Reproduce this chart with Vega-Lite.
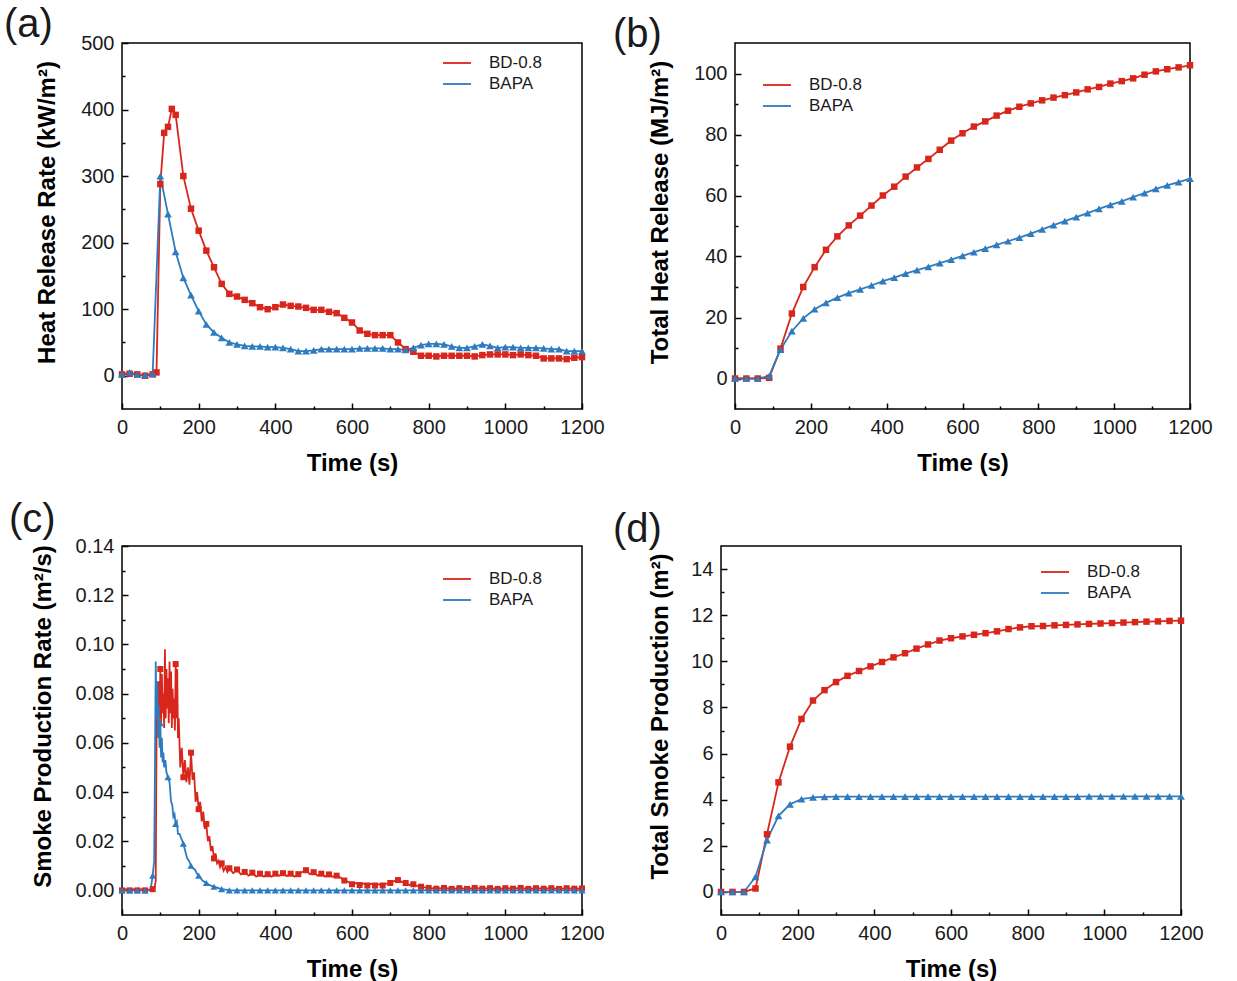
{
  "$schema": "https://vega.github.io/schema/vega-lite/v6.json",
  "background": "white",
  "padding": {"left": 3, "top": 4, "right": 5, "bottom": 2},
  "config": {
    "font": "Liberation Sans",
    "view": {"stroke": "black", "strokeWidth": 1.5},
    "axis": {
      "grid": false, "domain": false,
      "tickColor": "black", "tickWidth": 1.5, "tickSize": -6,
      "labelFlush": false, "labelPadding": 14,
      "labelFont": "Liberation Sans", "labelFontSize": 20, "labelColor": "#1a1a1a",
      "titleFont": "Liberation Sans", "titleFontSize": 24, "titleFontWeight": "bold", "titleColor": "black"
    },
    "legend": {"labelFont": "Liberation Sans", "labelFontSize": 17, "labelColor": "#1a1a1a"},
    "title": {"font": "Liberation Sans", "fontSize": 40, "fontWeight": "normal", "color": "#1a1a1a", "anchor": "start", "frame": "group"},
    "line": {"strokeWidth": 1.8}
  },
  "resolve": {"scale": {"color": "independent"}, "legend": {"color": "independent"}},
  "datasets": {
    "a": [
      {"t":0,"BD":2,"BAPA":2},{"t":20,"BD":3,"BAPA":5},{"t":40,"BD":2,"BAPA":2},{"t":60,"BD":0,"BAPA":1},{"t":80,"BD":2,"BAPA":3},
      {"t":90,"BD":5},{"t":100,"BD":288,"BAPA":300},{"t":110,"BD":365},{"t":120,"BD":374,"BAPA":243},{"t":130,"BD":401},
      {"t":140,"BD":392,"BAPA":186},{"t":160,"BD":300,"BAPA":147},{"t":180,"BD":251,"BAPA":121},{"t":200,"BD":218,"BAPA":97},
      {"t":220,"BD":188,"BAPA":77},{"t":240,"BD":163,"BAPA":65},{"t":260,"BD":138,"BAPA":57},{"t":280,"BD":123,"BAPA":50},
      {"t":300,"BD":119,"BAPA":47},{"t":320,"BD":114,"BAPA":45},{"t":340,"BD":109,"BAPA":44},{"t":360,"BD":103,"BAPA":44},
      {"t":380,"BD":100,"BAPA":43},{"t":400,"BD":103,"BAPA":43},{"t":420,"BD":107,"BAPA":42},{"t":440,"BD":105,"BAPA":40},
      {"t":460,"BD":104,"BAPA":37},{"t":480,"BD":102,"BAPA":37},{"t":500,"BD":99,"BAPA":38},{"t":520,"BD":99,"BAPA":40},
      {"t":540,"BD":96,"BAPA":40},{"t":560,"BD":94,"BAPA":40},{"t":580,"BD":87,"BAPA":40},{"t":600,"BD":80,"BAPA":40},
      {"t":620,"BD":68,"BAPA":41},{"t":640,"BD":63,"BAPA":41},{"t":660,"BD":61,"BAPA":41},{"t":680,"BD":61,"BAPA":41},
      {"t":700,"BD":61,"BAPA":40},{"t":720,"BD":50,"BAPA":40},{"t":740,"BD":40,"BAPA":39},{"t":760,"BD":36,"BAPA":42},
      {"t":780,"BD":30,"BAPA":46},{"t":800,"BD":30,"BAPA":48},{"t":820,"BD":29,"BAPA":48},{"t":840,"BD":30,"BAPA":47},
      {"t":860,"BD":30,"BAPA":44},{"t":880,"BD":30,"BAPA":42},{"t":900,"BD":30,"BAPA":42},{"t":920,"BD":29,"BAPA":44},
      {"t":940,"BD":31,"BAPA":47},{"t":960,"BD":32,"BAPA":45},{"t":980,"BD":32,"BAPA":42},{"t":1000,"BD":32,"BAPA":43},
      {"t":1020,"BD":31,"BAPA":43},{"t":1040,"BD":32,"BAPA":42},{"t":1060,"BD":31,"BAPA":42},{"t":1080,"BD":30,"BAPA":42},
      {"t":1100,"BD":26,"BAPA":41},{"t":1120,"BD":26,"BAPA":40},{"t":1140,"BD":26,"BAPA":40},{"t":1160,"BD":25,"BAPA":37},
      {"t":1180,"BD":27,"BAPA":37},{"t":1200,"BD":28,"BAPA":37}
    ],
    "b": [
      {"t":0,"BD":0,"BAPA":0},{"t":30,"BD":0,"BAPA":0},{"t":60,"BD":0,"BAPA":0},{"t":90,"BD":0.2,"BAPA":0.8},
      {"t":120,"BD":9.8,"BAPA":9.5},{"t":150,"BD":21.3,"BAPA":15.5},{"t":180,"BD":30,"BAPA":19.7},{"t":210,"BD":36.5,"BAPA":22.7},
      {"t":240,"BD":42.2,"BAPA":24.8},{"t":270,"BD":46.6,"BAPA":26.5},{"t":300,"BD":50.2,"BAPA":28},{"t":330,"BD":53.4,"BAPA":29.2},
      {"t":360,"BD":56.7,"BAPA":30.5},{"t":390,"BD":60,"BAPA":31.9},{"t":420,"BD":62.9,"BAPA":33.1},{"t":450,"BD":66.2,"BAPA":34.4},
      {"t":480,"BD":69.2,"BAPA":35.5},{"t":510,"BD":72,"BAPA":36.6},{"t":540,"BD":75,"BAPA":37.8},{"t":570,"BD":78,"BAPA":39},
      {"t":600,"BD":80.4,"BAPA":40.2},{"t":630,"BD":82.6,"BAPA":41.4},{"t":660,"BD":84.3,"BAPA":42.6},{"t":690,"BD":86.2,"BAPA":43.8},
      {"t":720,"BD":87.8,"BAPA":45},{"t":750,"BD":89.1,"BAPA":46.2},{"t":780,"BD":90.2,"BAPA":47.5},{"t":810,"BD":91.2,"BAPA":48.9},
      {"t":840,"BD":92.1,"BAPA":50.3},{"t":870,"BD":92.9,"BAPA":51.6},{"t":900,"BD":93.8,"BAPA":52.9},{"t":930,"BD":94.8,"BAPA":54.2},
      {"t":960,"BD":95.6,"BAPA":55.6},{"t":990,"BD":96.7,"BAPA":56.9},{"t":1020,"BD":97.5,"BAPA":58.1},{"t":1050,"BD":98.4,"BAPA":59.5},
      {"t":1080,"BD":99.6,"BAPA":60.8},{"t":1110,"BD":100.7,"BAPA":62.2},{"t":1140,"BD":101.4,"BAPA":63.3},{"t":1170,"BD":102,"BAPA":64.4},
      {"t":1200,"BD":102.7,"BAPA":65.5}
    ],
    "c": [
      {"t":0,"BD":0,"BAPA":0},{"t":10,"BD":0.0005,"BAPA":0},{"t":20,"BD":0,"BAPA":0},{"t":30,"BD":0.0005,"BAPA":0},
      {"t":40,"BD":0,"BAPA":0},{"t":50,"BD":0.0005,"BAPA":0},{"t":60,"BD":0,"BAPA":0},{"t":70,"BD":0.0003,"BAPA":0},
      {"t":75,"BAPA":0.0005},{"t":80,"BD":0.0005,"BAPA":0.006},{"t":84,"BAPA":0.012},{"t":85,"BD":0.001},{"t":86,"BAPA":0.05},
      {"t":88,"BD":0.004,"BAPA":0.093},{"t":90,"BD":0.06,"BAPA":0.072},{"t":92,"BD":0.078,"BAPA":0.085},{"t":94,"BD":0.065,"BAPA":0.062},
      {"t":96,"BD":0.085,"BAPA":0.075},{"t":98,"BD":0.07,"BAPA":0.058},{"t":100,"BD":0.09,"BAPA":0.068},{"t":102,"BD":0.068,"BAPA":0.054},
      {"t":104,"BD":0.088,"BAPA":0.062},{"t":106,"BD":0.072,"BAPA":0.052},{"t":108,"BD":0.08,"BAPA":0.056},{"t":110,"BD":0.066,"BAPA":0.05},
      {"t":112,"BD":0.098},{"t":113,"BAPA":0.053},{"t":114,"BD":0.07},{"t":116,"BD":0.09,"BAPA":0.048},{"t":118,"BD":0.074},
      {"t":120,"BD":0.085,"BAPA":0.046},{"t":122,"BD":0.068},{"t":124,"BD":0.093,"BAPA":0.044},{"t":126,"BD":0.072},
      {"t":128,"BD":0.089,"BAPA":0.036},{"t":130,"BD":0.066},{"t":131,"BAPA":0.035},{"t":132,"BD":0.082},{"t":134,"BD":0.07,"BAPA":0.03},
      {"t":136,"BD":0.078},{"t":137,"BAPA":0.031},{"t":138,"BD":0.065},{"t":140,"BD":0.092,"BAPA":0.027},{"t":142,"BD":0.07},
      {"t":143,"BAPA":0.028},{"t":144,"BD":0.09},{"t":146,"BD":0.062,"BAPA":0.023},{"t":148,"BD":0.07},{"t":150,"BAPA":0.023},
      {"t":152,"BD":0.05},{"t":155,"BAPA":0.021},{"t":156,"BD":0.058},{"t":160,"BD":0.046,"BAPA":0.019},{"t":164,"BD":0.053},
      {"t":165,"BAPA":0.016},{"t":168,"BD":0.044},{"t":170,"BAPA":0.013},{"t":172,"BD":0.05},{"t":175,"BAPA":0.012},{"t":176,"BD":0.043},
      {"t":180,"BD":0.056,"BAPA":0.01},{"t":184,"BD":0.045},{"t":185,"BAPA":0.009},{"t":188,"BD":0.048},{"t":190,"BAPA":0.0085},
      {"t":192,"BD":0.036},{"t":195,"BAPA":0.007},{"t":196,"BD":0.04},{"t":200,"BD":0.033,"BAPA":0.006},{"t":204,"BD":0.036},
      {"t":208,"BD":0.028},{"t":210,"BAPA":0.004},{"t":212,"BD":0.032},{"t":216,"BD":0.025},{"t":220,"BD":0.027,"BAPA":0.003},
      {"t":224,"BD":0.02},{"t":228,"BD":0.022},{"t":230,"BAPA":0.002},{"t":232,"BD":0.016},{"t":236,"BD":0.018},
      {"t":240,"BD":0.013,"BAPA":0.0015},{"t":244,"BD":0.015},{"t":248,"BD":0.011},{"t":250,"BAPA":0.001},{"t":252,"BD":0.012},
      {"t":256,"BD":0.0095},{"t":260,"BD":0.011,"BAPA":0.0005},{"t":265,"BD":0.008},{"t":270,"BD":0.0095,"BAPA":0.0003},
      {"t":275,"BD":0.0075},{"t":280,"BD":0.009,"BAPA":0},{"t":290,"BD":0.007},{"t":300,"BD":0.0085,"BAPA":0},
      {"t":310,"BD":0.0065},{"t":320,"BD":0.0075,"BAPA":0},{"t":330,"BD":0.006},{"t":340,"BD":0.0072,"BAPA":0},
      {"t":350,"BD":0.0056},{"t":360,"BD":0.0068,"BAPA":0},{"t":370,"BD":0.0056},{"t":380,"BD":0.0066,"BAPA":0},
      {"t":390,"BD":0.0056},{"t":400,"BD":0.0068,"BAPA":0},{"t":410,"BD":0.006},{"t":420,"BD":0.007,"BAPA":0},
      {"t":430,"BD":0.0058},{"t":440,"BD":0.0068,"BAPA":0},{"t":450,"BD":0.0056},{"t":460,"BD":0.0066,"BAPA":0},
      {"t":470,"BD":0.0075},{"t":480,"BD":0.0082,"BAPA":0},{"t":490,"BD":0.0066},{"t":500,"BD":0.0074,"BAPA":0},
      {"t":510,"BD":0.006},{"t":520,"BD":0.0068,"BAPA":0},{"t":530,"BD":0.0056},{"t":540,"BD":0.0065,"BAPA":0},
      {"t":550,"BD":0.0055},{"t":560,"BD":0.006,"BAPA":0},{"t":570,"BD":0.0052},{"t":580,"BD":0.004,"BAPA":0},
      {"t":590,"BD":0.0035},{"t":600,"BD":0.0025,"BAPA":0},{"t":610,"BD":0.003},{"t":620,"BD":0.0022,"BAPA":0},
      {"t":630,"BD":0.0028},{"t":640,"BD":0.002,"BAPA":0},{"t":650,"BD":0.0027},{"t":660,"BD":0.002,"BAPA":0},
      {"t":670,"BD":0.0025},{"t":680,"BD":0.002,"BAPA":0},{"t":690,"BD":0.0028},{"t":700,"BD":0.003,"BAPA":0},
      {"t":710,"BD":0.0038},{"t":720,"BD":0.0042,"BAPA":0},{"t":730,"BD":0.0035},{"t":740,"BD":0.003,"BAPA":0},
      {"t":750,"BD":0.0022},{"t":760,"BD":0.0025,"BAPA":0},{"t":770,"BD":0.0018},{"t":780,"BD":0.0015,"BAPA":0},
      {"t":790,"BD":0.0012},{"t":800,"BD":0.001,"BAPA":0},{"t":820,"BD":0.0007,"BAPA":0},{"t":840,"BD":0.001,"BAPA":0},
      {"t":860,"BD":0.0006,"BAPA":0},{"t":880,"BD":0.0009,"BAPA":0},{"t":900,"BD":0.0006,"BAPA":0},{"t":920,"BD":0.001,"BAPA":0},
      {"t":940,"BD":0.0007,"BAPA":0},{"t":960,"BD":0.0009,"BAPA":0},{"t":980,"BD":0.0006,"BAPA":0},{"t":1000,"BD":0.0009,"BAPA":0},
      {"t":1020,"BD":0.0007,"BAPA":0},{"t":1040,"BD":0.001,"BAPA":0},{"t":1060,"BD":0.0006,"BAPA":0},{"t":1080,"BD":0.0009,"BAPA":0},
      {"t":1100,"BD":0.0007,"BAPA":0},{"t":1120,"BD":0.0009,"BAPA":0},{"t":1140,"BD":0.0006,"BAPA":0},{"t":1160,"BD":0.0009,"BAPA":0},
      {"t":1180,"BD":0.0007,"BAPA":0},{"t":1200,"BD":0.0008,"BAPA":0}
    ],
    "d": [
      {"t":0,"BD":0,"BAPA":0},{"t":30,"BD":0,"BAPA":0},{"t":60,"BD":0,"BAPA":0},{"t":90,"BD":0.15,"BAPA":0.65},
      {"t":120,"BD":2.5,"BAPA":2.25},{"t":150,"BD":4.75,"BAPA":3.3},{"t":180,"BD":6.3,"BAPA":3.8},{"t":210,"BD":7.5,"BAPA":4.02},
      {"t":240,"BD":8.3,"BAPA":4.1},{"t":270,"BD":8.75,"BAPA":4.12},{"t":300,"BD":9.1,"BAPA":4.13},{"t":330,"BD":9.37,"BAPA":4.13},
      {"t":360,"BD":9.58,"BAPA":4.13},{"t":390,"BD":9.78,"BAPA":4.13},{"t":420,"BD":9.97,"BAPA":4.13},{"t":450,"BD":10.17,"BAPA":4.13},
      {"t":480,"BD":10.35,"BAPA":4.13},{"t":510,"BD":10.55,"BAPA":4.13},{"t":540,"BD":10.73,"BAPA":4.13},{"t":570,"BD":10.9,"BAPA":4.13},
      {"t":600,"BD":11,"BAPA":4.13},{"t":630,"BD":11.08,"BAPA":4.13},{"t":660,"BD":11.15,"BAPA":4.13},{"t":690,"BD":11.22,"BAPA":4.13},
      {"t":720,"BD":11.3,"BAPA":4.13},{"t":750,"BD":11.4,"BAPA":4.13},{"t":780,"BD":11.47,"BAPA":4.13},{"t":810,"BD":11.52,"BAPA":4.13},
      {"t":840,"BD":11.53,"BAPA":4.13},{"t":870,"BD":11.56,"BAPA":4.13},{"t":900,"BD":11.58,"BAPA":4.13},{"t":930,"BD":11.6,"BAPA":4.13},
      {"t":960,"BD":11.62,"BAPA":4.14},{"t":990,"BD":11.64,"BAPA":4.14},{"t":1020,"BD":11.66,"BAPA":4.14},{"t":1050,"BD":11.68,"BAPA":4.14},
      {"t":1080,"BD":11.7,"BAPA":4.14},{"t":1110,"BD":11.72,"BAPA":4.14},{"t":1140,"BD":11.73,"BAPA":4.14},{"t":1170,"BD":11.75,"BAPA":4.14},
      {"t":1200,"BD":11.76,"BAPA":4.14}
    ]
  },
  "spacing": 23,
  "vconcat": [
    {
      "bounds": "flush",
      "spacing": 153,
      "resolve": {"scale": {"color": "independent"}, "legend": {"color": "independent"}},
      "hconcat": [
        {
          "title": {"text": "(a)", "dx": -118, "offset": -12},
          "width": 460, "height": 366,
          "data": {"name": "a"},
          "transform": [{"fold": ["BD", "BAPA"], "as": ["s", "v"]}, {"filter": "isValid(datum.v)"}],
          "encoding": {
            "x": {"field": "t", "type": "quantitative", "scale": {"domain": [0, 1200], "nice": false},
              "axis": {"title": "Time (s)", "values": [0,100,200,300,400,500,600,700,800,900,1000,1100,1200], "format": "d",
                "labelExpr": "datum.value % 200 === 0 ? datum.label : ''", "titlePadding": 14,
                "tickDash": {"condition": {"test": "datum.value % 200 !== 0", "value": [3, 30]}, "value": [10, 0]}}},
            "y": {"field": "v", "type": "quantitative", "scale": {"domain": [-50, 500], "nice": false, "zero": false},
              "axis": {"title": "Heat Release Rate (kW/m²)", "values": [0,50,100,150,200,250,300,350,400,450,500],
                "labelExpr": "datum.value % 100 === 0 ? datum.label : ''", "titlePadding": 21, "titleY": 169,
                "tickDash": {"condition": {"test": "datum.value % 100 !== 0", "value": [3, 30]}, "value": [10, 0]}}},
            "color": {"field": "s", "type": "nominal",
              "scale": {"domain": ["BD", "BAPA"], "range": ["#d9261c", "#2e7bbf"]},
              "legend": {"title": null, "orient": "none", "legendX": 324, "legendY": 9, "labelExpr": "datum.label === 'BD' ? 'BD-0.8' : datum.label",
                "symbolType": "M-1.4,0H1.4", "symbolSize": 400, "symbolStrokeWidth": 1.8, "labelOffset": 21, "rowPadding": 2}}
          },
          "layer": [
            {"mark": {"type": "line"}},
            {"transform": [{"filter": "datum.s === 'BD'"}], "mark": {"type": "point", "shape": "square", "filled": true, "opacity": 1, "size": 42}},
            {"transform": [{"filter": "datum.s === 'BAPA'"}], "mark": {"type": "point", "shape": "triangle-up", "filled": true, "opacity": 1, "size": 60}}
          ]
        },
        {
          "title": {"text": "(b)", "dx": -122, "offset": -12},
          "width": 455, "height": 366,
          "data": {"name": "b"},
          "transform": [{"fold": ["BD", "BAPA"], "as": ["s", "v"]}, {"filter": "isValid(datum.v)"}],
          "encoding": {
            "x": {"field": "t", "type": "quantitative", "scale": {"domain": [0, 1200], "nice": false},
              "axis": {"title": "Time (s)", "values": [0,100,200,300,400,500,600,700,800,900,1000,1100,1200], "format": "d",
                "labelExpr": "datum.value % 200 === 0 ? datum.label : ''", "titlePadding": 14,
                "tickDash": {"condition": {"test": "datum.value % 200 !== 0", "value": [3, 30]}, "value": [10, 0]}}},
            "y": {"field": "v", "type": "quantitative", "scale": {"domain": [-10, 110], "nice": false, "zero": false},
              "axis": {"title": "Total Heat Release (MJ/m²)", "values": [0,10,20,30,40,50,60,70,80,90,100],
                "labelExpr": "datum.value % 20 === 0 ? datum.label : ''", "titlePadding": 21, "titleY": 169,
                "tickDash": {"condition": {"test": "datum.value % 20 !== 0", "value": [3, 30]}, "value": [10, 0]}}},
            "color": {"field": "s", "type": "nominal",
              "scale": {"domain": ["BD", "BAPA"], "range": ["#d9261c", "#2e7bbf"]},
              "legend": {"title": null, "orient": "none", "legendX": 31, "legendY": 31, "labelExpr": "datum.label === 'BD' ? 'BD-0.8' : datum.label",
                "symbolType": "M-1.4,0H1.4", "symbolSize": 400, "symbolStrokeWidth": 1.8, "labelOffset": 21, "rowPadding": 2}}
          },
          "layer": [
            {"mark": {"type": "line"}},
            {"transform": [{"filter": "datum.s === 'BD'"}], "mark": {"type": "point", "shape": "square", "filled": true, "opacity": 1, "size": 42}},
            {"transform": [{"filter": "datum.s === 'BAPA'"}], "mark": {"type": "point", "shape": "triangle-up", "filled": true, "opacity": 1, "size": 60}}
          ]
        }
      ]
    },
    {
      "bounds": "flush",
      "spacing": 139,
      "resolve": {"scale": {"color": "independent"}, "legend": {"color": "independent"}},
      "hconcat": [
        {
          "title": {"text": "(c)", "dx": -113, "offset": -4},
          "width": 460, "height": 369,
          "data": {"name": "c"},
          "transform": [{"fold": ["BD", "BAPA"], "as": ["s", "v"]}, {"filter": "isValid(datum.v)"}],
          "encoding": {
            "x": {"field": "t", "type": "quantitative", "scale": {"domain": [0, 1200], "nice": false},
              "axis": {"title": "Time (s)", "values": [0,100,200,300,400,500,600,700,800,900,1000,1100,1200], "format": "d",
                "labelExpr": "datum.value % 200 === 0 ? datum.label : ''", "titlePadding": 14,
                "tickDash": {"condition": {"test": "datum.value % 200 !== 0", "value": [3, 30]}, "value": [10, 0]}}},
            "y": {"field": "v", "type": "quantitative", "scale": {"domain": [-0.01, 0.14], "nice": false, "zero": false},
              "axis": {"title": "Smoke Production Rate (m²/s)", "values": [0,0.01,0.02,0.03,0.04,0.05,0.06,0.07,0.08,0.09,0.1,0.11,0.12,0.13,0.14],
                "format": ".2f",
                "labelExpr": "round(datum.value * 100) % 2 === 0 ? datum.label : ''", "titlePadding": 20, "titleY": 170,
                "tickDash": {"condition": {"test": "round(datum.value * 100) % 2 !== 0", "value": [3, 30]}, "value": [10, 0]}}},
            "color": {"field": "s", "type": "nominal",
              "scale": {"domain": ["BD", "BAPA"], "range": ["#d9261c", "#2e7bbf"]},
              "legend": {"title": null, "orient": "none", "legendX": 324, "legendY": 22, "labelExpr": "datum.label === 'BD' ? 'BD-0.8' : datum.label",
                "symbolType": "M-1.4,0H1.4", "symbolSize": 400, "symbolStrokeWidth": 1.8, "labelOffset": 21, "rowPadding": 2}}
          },
          "layer": [
            {"mark": {"type": "line"}},
            {"transform": [{"filter": "datum.s === 'BD' && datum.t % 20 === 0"}], "mark": {"type": "point", "shape": "square", "filled": true, "opacity": 1, "size": 36}},
            {"transform": [{"filter": "datum.s === 'BAPA' && datum.t % 20 === 0"}], "mark": {"type": "point", "shape": "triangle-up", "filled": true, "opacity": 1, "size": 50}}
          ]
        },
        {
          "title": {"text": "(d)", "dx": -108, "offset": -4},
          "width": 460, "height": 369,
          "data": {"name": "d"},
          "transform": [{"fold": ["BD", "BAPA"], "as": ["s", "v"]}, {"filter": "isValid(datum.v)"}],
          "encoding": {
            "x": {"field": "t", "type": "quantitative", "scale": {"domain": [0, 1200], "nice": false},
              "axis": {"title": "Time (s)", "values": [0,100,200,300,400,500,600,700,800,900,1000,1100,1200], "format": "d",
                "labelExpr": "datum.value % 200 === 0 ? datum.label : ''", "titlePadding": 14,
                "tickDash": {"condition": {"test": "datum.value % 200 !== 0", "value": [3, 30]}, "value": [10, 0]}}},
            "y": {"field": "v", "type": "quantitative", "scale": {"domain": [-1, 15], "nice": false, "zero": false},
              "axis": {"title": "Total Smoke Production (m²)", "values": [0,1,2,3,4,5,6,7,8,9,10,11,12,13,14],
                "labelExpr": "datum.value % 2 === 0 ? datum.label : ''", "titlePadding": 18, "titleY": 170,
                "tickDash": {"condition": {"test": "datum.value % 2 !== 0", "value": [3, 30]}, "value": [10, 0]}}},
            "color": {"field": "s", "type": "nominal",
              "scale": {"domain": ["BD", "BAPA"], "range": ["#d9261c", "#2e7bbf"]},
              "legend": {"title": null, "orient": "none", "legendX": 323, "legendY": 15, "labelExpr": "datum.label === 'BD' ? 'BD-0.8' : datum.label",
                "symbolType": "M-1.4,0H1.4", "symbolSize": 400, "symbolStrokeWidth": 1.8, "labelOffset": 21, "rowPadding": 2}}
          },
          "layer": [
            {"mark": {"type": "line"}},
            {"transform": [{"filter": "datum.s === 'BD'"}], "mark": {"type": "point", "shape": "square", "filled": true, "opacity": 1, "size": 42}},
            {"transform": [{"filter": "datum.s === 'BAPA'"}], "mark": {"type": "point", "shape": "triangle-up", "filled": true, "opacity": 1, "size": 60}}
          ]
        }
      ]
    }
  ]
}
